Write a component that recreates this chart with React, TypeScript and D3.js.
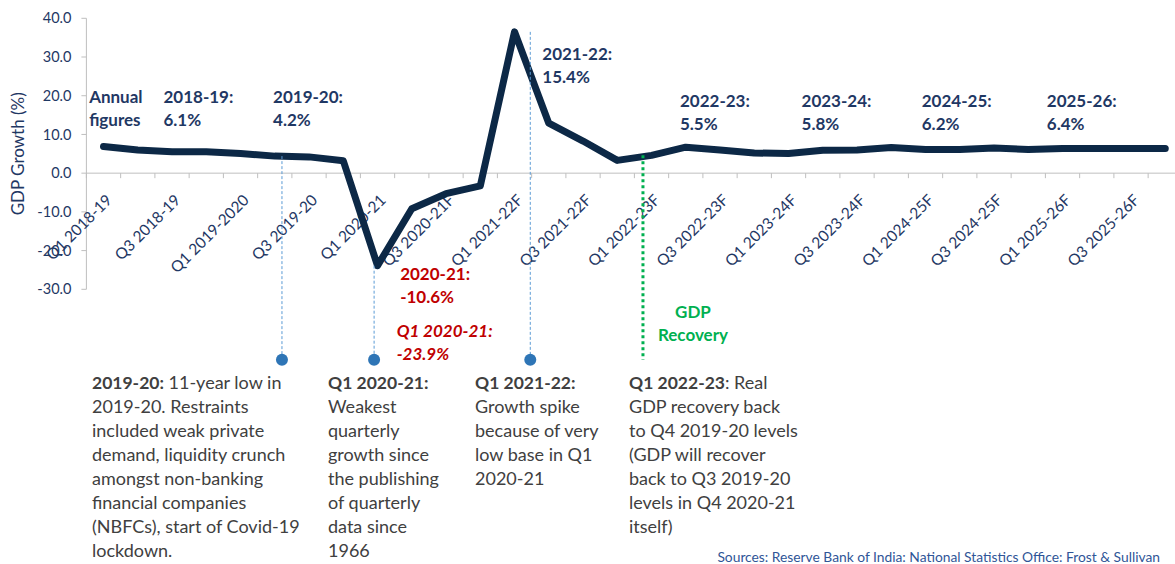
import React from "react";
import * as d3 from "d3";

const W = 1175;
const H = 564;

const quarters = [
  "Q1 2018-19", "Q2 2018-19", "Q3 2018-19", "Q4 2018-19",
  "Q1 2019-2020", "Q2 2019-20", "Q3 2019-20", "Q4 2019-20",
  "Q1 2020-21", "Q2 2020-21", "Q3 2020-21F", "Q4 2020-21F",
  "Q1 2021-22F", "Q2 2021-22F", "Q3 2021-22F", "Q4 2021-22F",
  "Q1 2022-23F", "Q2 2022-23F", "Q3 2022-23F", "Q4 2022-23F",
  "Q1 2023-24F", "Q2 2023-24F", "Q3 2023-24F", "Q4 2023-24F",
  "Q1 2024-25F", "Q2 2024-25F", "Q3 2024-25F", "Q4 2024-25F",
  "Q1 2025-26F", "Q2 2025-26F", "Q3 2025-26F", "Q4 2025-26F",
];

const gdpGrowth = [
  6.9, 6.0, 5.5, 5.5, 5.1, 4.4, 4.2, 3.2,
  -23.9, -9.2, -5.3, -3.3, 36.5, 12.9, 8.3, 3.3,
  4.6, 6.7, 6.0, 5.2, 5.1, 5.9, 6.0, 6.6,
  6.1, 6.1, 6.5, 6.1, 6.4, 6.4, 6.4, 6.4,
];

const yTicks = [40, 30, 20, 10, 0, -10, -20, -30];

// annual figure callouts: position in quarter units / value units
const annualNotes = [
  { l1: "Annual", l2: "figures", at: -0.42, v: 18.0 },
  { l1: "2018-19:", l2: "6.1%", at: 1.75, v: 18.0 },
  { l1: "2019-20:", l2: "4.2%", at: 4.95, v: 18.0 },
  { l1: "2021-22:", l2: "15.4%", at: 12.81, v: 29.1 },
  { l1: "2022-23:", l2: "5.5%", at: 16.83, v: 17.2 },
  { l1: "2023-24:", l2: "5.8%", at: 20.38, v: 17.2 },
  { l1: "2024-25:", l2: "6.2%", at: 23.89, v: 17.2 },
  { l1: "2025-26:", l2: "6.4%", at: 27.54, v: 17.2 },
];

// dashed pointers: [quarter position, index of the point they start from]
const pointers = [
  { at: 5.21, from: 5 },
  { at: 7.9, from: 8 },
  { at: 12.46, from: 12 },
];

const blocks = [
  {
    x: 92,
    lines: [
      ["2019-20:", " 11-year low in"],
      ["", "2019-20. Restraints"],
      ["", "included weak private"],
      ["", "demand, liquidity crunch"],
      ["", "amongst non-banking"],
      ["", "financial companies"],
      ["", "(NBFCs), start of Covid-19"],
      ["", "lockdown."],
    ],
  },
  {
    x: 328,
    lines: [
      ["Q1 2020-21:", ""],
      ["", "Weakest"],
      ["", "quarterly"],
      ["", "growth since"],
      ["", "the publishing"],
      ["", "of quarterly"],
      ["", "data since"],
      ["", "1966"],
    ],
  },
  {
    x: 475,
    lines: [
      ["Q1 2021-22:", ""],
      ["", "Growth spike"],
      ["", "because of very"],
      ["", "low base in Q1"],
      ["", "2020-21"],
    ],
  },
  {
    x: 629,
    lines: [
      ["Q1 2022-23", ": Real"],
      ["", "GDP recovery back"],
      ["", "to Q4 2019-20 levels"],
      ["", "(GDP will recover"],
      ["", "back to Q3 2019-20"],
      ["", "levels in Q4 2020-21"],
      ["", "itself)"],
    ],
  },
];

const NAVY = "#1f3864";
const LINE = "#0c2846";
const RED = "#c00000";
const GREEN = "#00b050";
const BLUE = "#2e75b6";
const GREY = "#404040";
const FONT = "Lato, 'Open Sans', sans-serif";

export default function App() {
  const x = d3.scaleBand<string>().domain(quarters).range([86.4, 86.4 + 32 * 34.25]);
  const bw = x.bandwidth();
  const y = d3.scaleLinear().domain([-30, 40]).range([289.3, 18.3]);
  const x0 = x(quarters[0]) as number;
  const xf = (f: number) => x0 + (f + 0.5) * bw;
  const cx = (i: number) => (x(quarters[i]) as number) + bw / 2;

  const line = d3
    .line<number>()
    .x((_, i) => cx(i))
    .y((d) => y(d));

  const pinY = y(-48.2);
  const dropEnd = y(-47.2);

  return (
    <svg
      width={W}
      height={H}
      style={{ position: "absolute", left: 0, top: 0, background: "#fff" }}
      fontFamily={FONT}
    >
      {/* y axis */}
      <line x1={x0} x2={x0} y1={y(40)} y2={y(-30)} stroke="#bfbfbf" />
      {yTicks.map((t) => (
        <g key={t}>
          <line x1={x0 - 5} x2={x0} y1={y(t)} y2={y(t)} stroke="#bfbfbf" />
          <text x={x0 - 15} y={y(t)} dy="0.35em" textAnchor="end" fontSize={14.5} fill={NAVY}>
            {t.toFixed(1)}
          </text>
        </g>
      ))}
      <text
        transform={`translate(24,${y(5)}) rotate(-90)`}
        textAnchor="middle"
        fontSize={17}
        fill={NAVY}
      >
        GDP Growth (%)
      </text>

      {/* x axis */}
      <line x1={x0} x2={W} y1={y(0)} y2={y(0)} stroke="#bfbfbf" />
      {quarters.map((q) => (
        <line
          key={q}
          x1={x(q)}
          x2={x(q)}
          y1={y(0)}
          y2={y(0) + 5}
          stroke="#bfbfbf"
        />
      ))}
      {quarters.map((q, i) =>
        i % 2 === 0 ? (
          <text
            key={q}
            transform={`translate(${cx(i) + 1.5},${y(0) + 20}) rotate(-45)`}
            textAnchor="end"
            dy="0.72em"
            fontSize={15.5}
            fill={NAVY}
          >
            {q}
          </text>
        ) : null
      )}

      {/* series */}
      <path
        d={line(gdpGrowth) || ""}
        fill="none"
        stroke={LINE}
        strokeWidth={7}
        strokeLinejoin="round"
        strokeLinecap="round"
      />

      {/* pointers */}
      {pointers.map((p, i) => (
        <g key={i}>
          <line
            x1={xf(p.at)}
            x2={xf(p.at)}
            y1={y(gdpGrowth[p.from])}
            y2={dropEnd}
            stroke="#5b9bd5"
            strokeWidth={1}
            strokeDasharray="3 2"
          />
          <circle cx={xf(p.at)} cy={pinY} r={6} fill={BLUE} />
        </g>
      ))}

      {/* recovery marker */}
      <line
        x1={xf(15.75)}
        x2={xf(15.75)}
        y1={y(gdpGrowth[16])}
        y2={pinY}
        stroke={GREEN}
        strokeWidth={3}
        strokeDasharray="3 3"
      />
      <text x={xf(17.21)} y={y(-37.5)} textAnchor="middle" fontSize={17} fontWeight="bold" fill={GREEN}>
        <tspan x={xf(17.21)}>GDP</tspan>
        <tspan x={xf(17.21)} dy={23}>Recovery</tspan>
      </text>

      {/* annual callouts */}
      {annualNotes.map((a) => (
        <text key={a.l1} x={xf(a.at)} y={y(a.v)} fontSize={17} fontWeight="bold" fill={NAVY}>
          <tspan x={xf(a.at)}>{a.l1}</tspan>
          <tspan x={xf(a.at)} dy={23}>{a.l2}</tspan>
        </text>
      ))}

      <text x={xf(8.66)} y={y(-27.5)} fontSize={17} fontWeight="bold" fill={RED}>
        <tspan x={xf(8.66)}>2020-21:</tspan>
        <tspan x={xf(8.66)} dy={23}>-10.6%</tspan>
      </text>
      <text x={xf(8.56)} y={y(-42.4)} fontSize={17} fontWeight="bold" fontStyle="italic" fill={RED}>
        <tspan x={xf(8.56)}>Q1 2020-21:</tspan>
        <tspan x={xf(8.56)} dy={23}>-23.9%</tspan>
      </text>

      {/* commentary blocks */}
      {blocks.map((b, bi) => (
        <text key={bi} x={b.x} y={389} fontSize={18} fill={GREY}>
          {b.lines.map((ln, li) => (
            <tspan key={li} x={b.x} dy={li === 0 ? 0 : 24}>
              {ln[0] ? <tspan fontWeight="bold" fontSize={17.5}>{ln[0]}</tspan> : null}
              {ln[1]}
            </tspan>
          ))}
        </text>
      ))}

      <text x={1160} y={562} textAnchor="end" fontSize={13.8} fill="#2f5597">
        Sources: Reserve Bank of India: National Statistics Office:  Frost &amp; Sullivan
      </text>
    </svg>
  );
}
